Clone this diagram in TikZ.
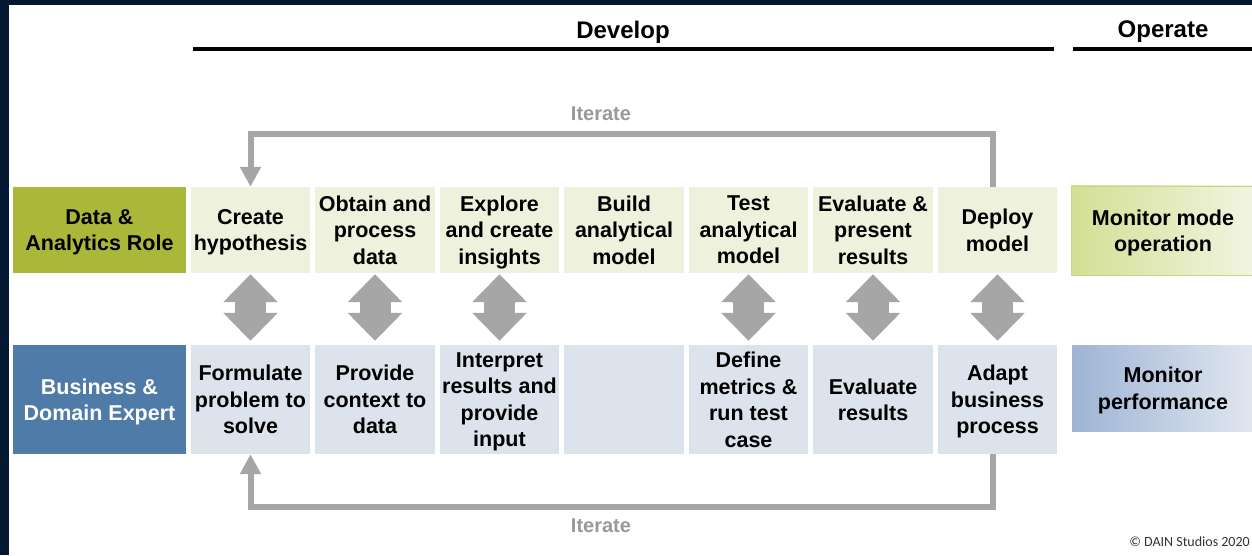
\documentclass[tikz,border=0pt]{standalone}
\usepackage{fontspec}
\setmainfont{Liberation Sans}
\newfontfamily\notefont{Carlito}
\usetikzlibrary{arrows.meta, positioning}

\definecolor{frameNavy}{HTML}{021830}
\definecolor{dataRole}{HTML}{AAB83A}
\definecolor{bizRole}{HTML}{4E7BA7}
\definecolor{dataLight}{HTML}{EEF2DD}
\definecolor{bizLight}{HTML}{DCE3EC}
\definecolor{loopGray}{HTML}{A6A6A6}
\definecolor{labelGray}{HTML}{999999}
\definecolor{opGreenL}{HTML}{D3DF94}
\definecolor{opGreenR}{HTML}{F1F5E2}
\definecolor{opGreenB}{HTML}{C8D67F}
\definecolor{opBlueL}{HTML}{9EB4D4}
\definecolor{opBlueR}{HTML}{E1E7F0}

\begin{document}
\begin{tikzpicture}[x = 1pt, y = 1pt, node distance = 124.5pt,
    task/.style = {rectangle, inner sep = 0pt, minimum width = 119.5pt, align = center, text depth = 0pt, font = \fontsize{21.5}{26.5}\selectfont\bfseries},
    dtask/.style = {task, fill = dataLight, minimum height = 86pt},
    btask/.style = {task, fill = bizLight, minimum height = 109pt},
    role/.style = {task, minimum width = 173pt},
    opbox/.style = {task, minimum width = 184pt, draw = white, line width = 0.6pt},
    phase/.style = {font = \fontsize{24}{28}\selectfont\bfseries},
    loopnote/.style = {text = labelGray, font = \fontsize{20}{24}\selectfont\bfseries},
    dblarrow/.style = {draw = loopGray, line width = 31pt, {Triangle[width = 53pt, length = 28pt]}-{Triangle[width = 53pt, length = 28pt]}, shorten <= 1pt, shorten >= 4pt},
    iterloop/.style = {draw = loopGray, line width = 6pt, -{Triangle[width = 20pt, length = 20pt]}}]
    \useasboundingbox (0,0) rectangle (1252,555);
    \fill[frameNavy] (0,0) rectangle (1252,555);
    \fill[white] (9,0) rectangle (1252,550);

    % phases
    \node[phase]	(dev)	at (623,523)	{Develop};
    \node[phase]	(op)	at (1163,523)	{Operate};
    \draw[line width = 4.5pt] (193,506) -- (1054,506);
    \draw[line width = 4.5pt] (1073,506) -- (1252,506);

    % data & analytics row
    \node[dtask]	(d1)	at (250.5,325)	{Create\\hypothesis};
    \node[dtask]	(d2) [right of=d1]	{Obtain and\\process\\data};
    \node[dtask]	(d3) [right of=d2]	{Explore\\and create\\insights};
    \node[dtask]	(d4) [right of=d3]	{Build\\analytical\\model};
    \node[dtask]	(d5) [right of=d4]	{Test\\analytical\\model};
    \node[dtask]	(d6) [right of=d5]	{Evaluate \&\\present\\results};
    \node[dtask]	(d7) [right of=d6]	{Deploy\\model};
    \node[role, fill = dataRole, minimum height = 86pt]	(dr) [left of=d1, node distance = 151pt]	{Data \&\\Analytics Role};
    \node[opbox, left color = opGreenL, right color = opGreenR, draw = opGreenB, minimum height = 89pt]	(mo)	at (1163,324.5)	{Monitor mode\\operation};

    % business & domain row
    \node[btask]	(b1)	at (250.5,155.5)	{Formulate\\problem to\\solve};
    \node[btask]	(b2) [right of=b1]	{Provide\\context to\\data};
    \node[btask]	(b3) [right of=b2]	{Interpret\\results and\\provide\\input};
    \node[btask]	(b4) [right of=b3]	{};
    \node[btask]	(b5) [right of=b4]	{Define\\metrics \&\\run test\\case};
    \node[btask]	(b6) [right of=b5]	{Evaluate\\results};
    \node[btask]	(b7) [right of=b6]	{Adapt\\business\\process};
    \node[role, fill = bizRole, text = white, minimum height = 109pt]	(br) [left of=b1, node distance = 151pt]	{Business \&\\Domain Expert};
    \node[opbox, left color = opBlueL, right color = opBlueR, minimum height = 88pt]	(mp)	at (1163,167)	{Monitor\\performance};

    % hand-overs
    \path	(d1)	edge[dblarrow]	(b1);
    \path	(d2)	edge[dblarrow]	(b2);
    \path	(d3)	edge[dblarrow]	(b3);
    \path	(d5)	edge[dblarrow]	(b5);
    \path	(d6)	edge[dblarrow]	(b6);
    \path	(d7)	edge[dblarrow]	(b7);

    % iterations
    \draw[iterloop] ([xshift = -5pt]d7.north) -- ++(0,53) -| (d1.north);
    \draw[iterloop] ([xshift = -5pt]b7.south) -- ++(0,-53) -| (b1.south);
    \node[loopnote]	(it1)	at (601,441)	{Iterate};
    \node[loopnote]	(it2)	at (601,29)	{Iterate};

    \node[anchor = east, inner sep = 1pt, font = \notefont\fontsize{14}{16}\selectfont, text = black!80]	(note)	at (1251,13)	{© DAIN Studios 2020};
\end{tikzpicture}
\end{document}
